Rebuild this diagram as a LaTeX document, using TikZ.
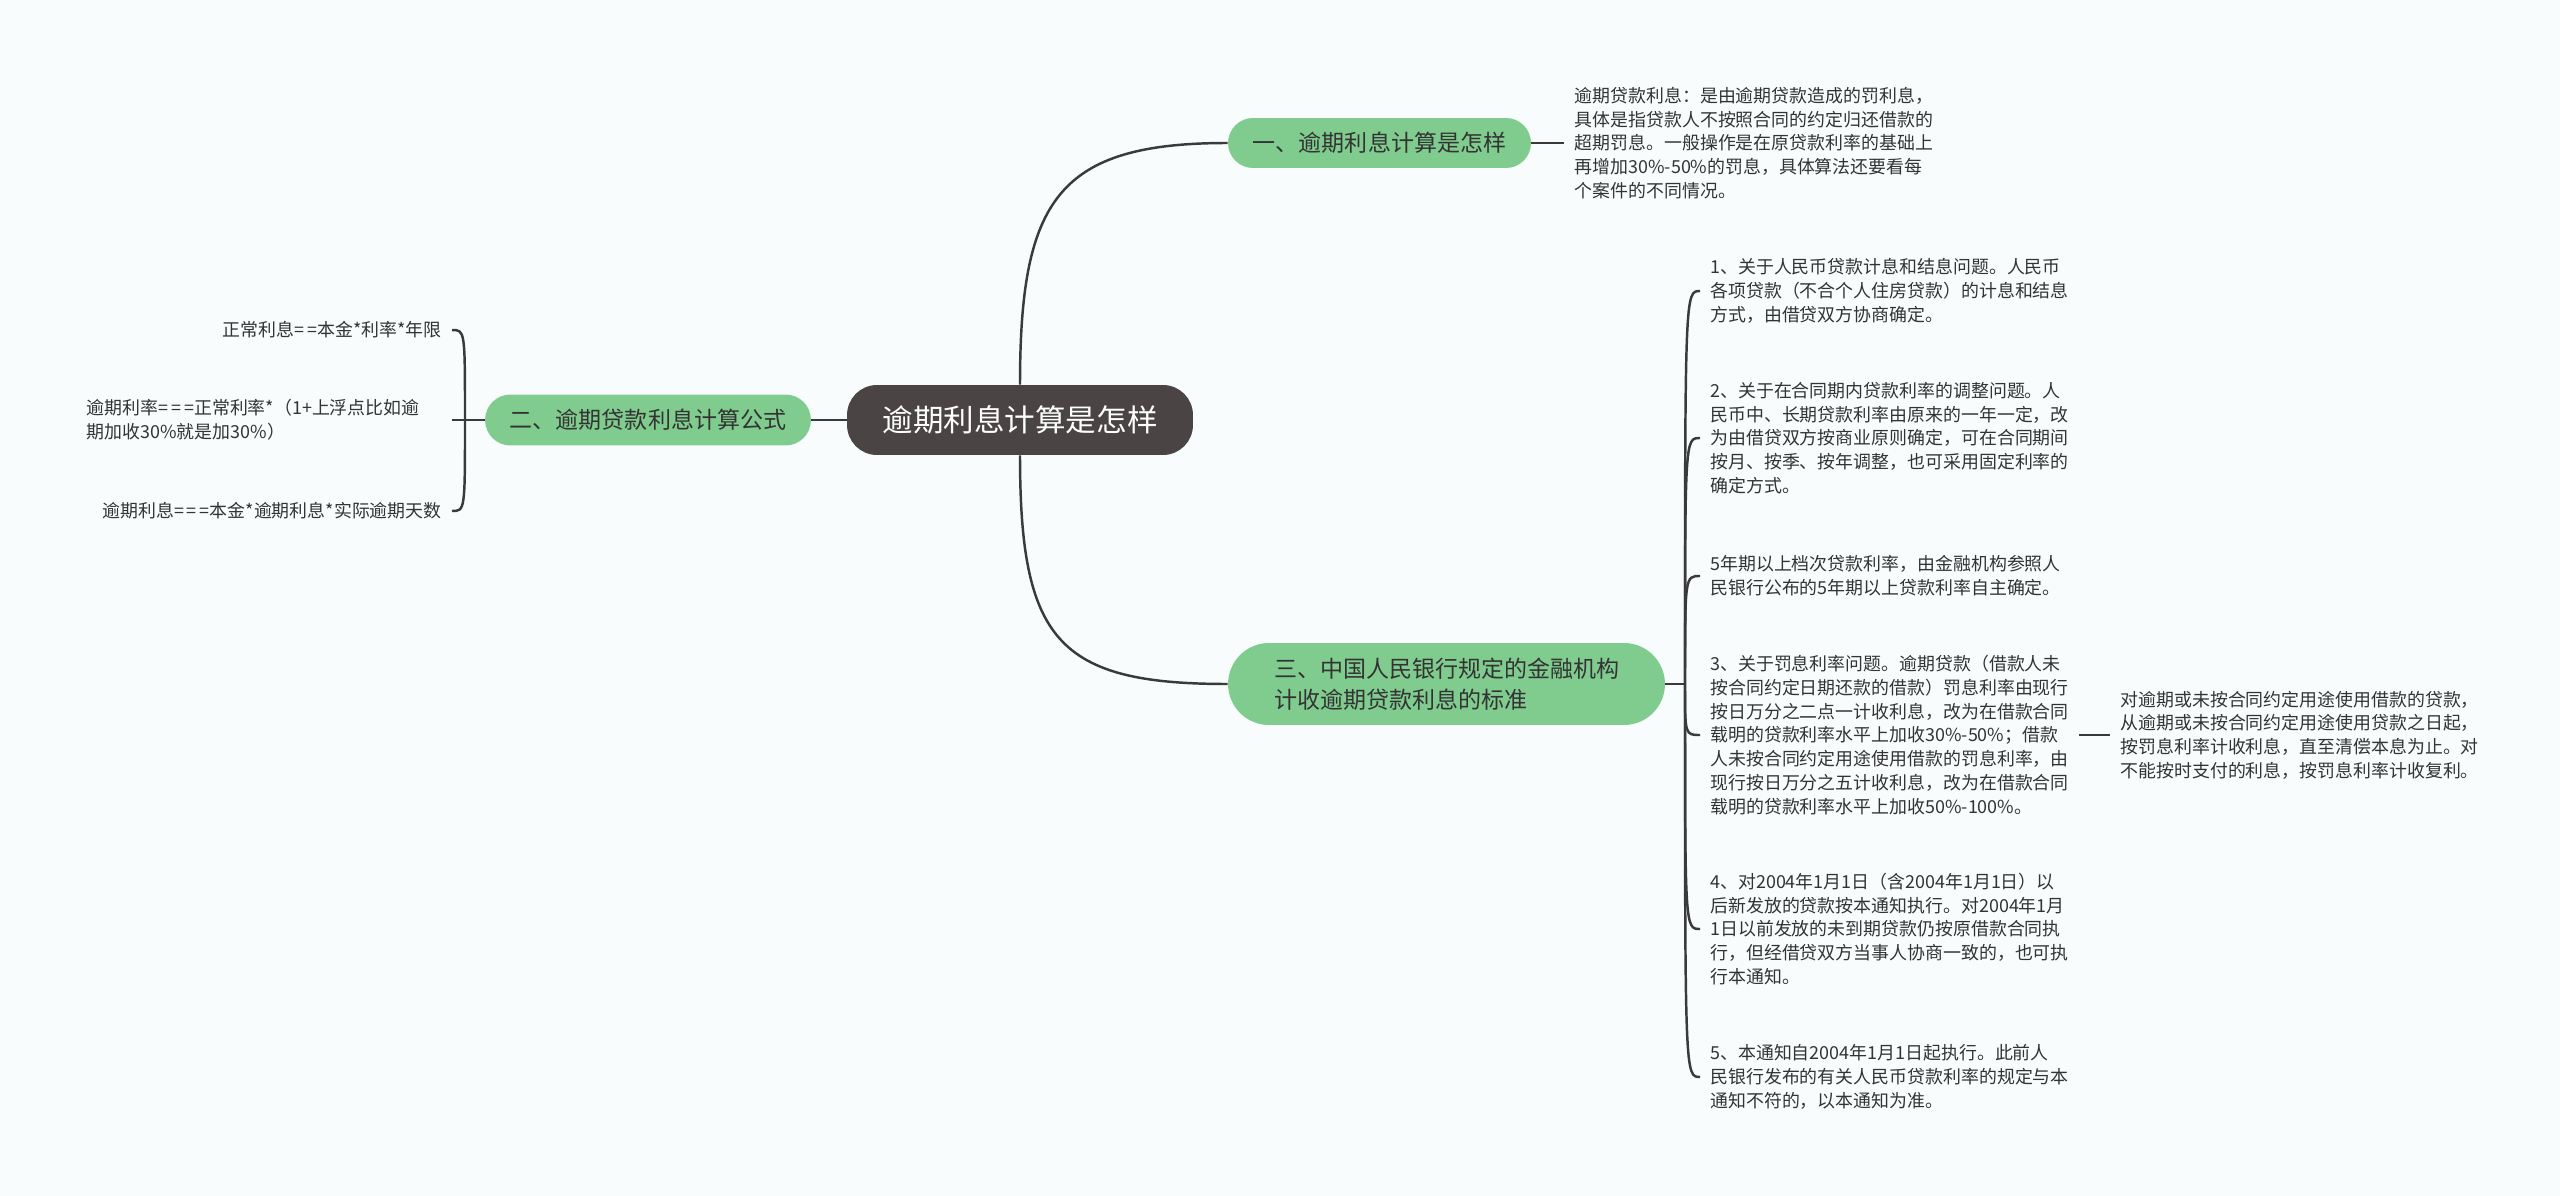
\documentclass[tikz,border=0pt]{standalone}
\usepackage{fontspec}
\setmainfont{Noto Sans CJK SC}
\usetikzlibrary{positioning}
\definecolor{paper}{HTML}{F8FCFD}
\definecolor{rootgray}{HTML}{4A4444}
\definecolor{leafgreen}{HTML}{80CC8F}
\definecolor{ink}{HTML}{333333}
\definecolor{wire}{HTML}{3A3A3A}

\begin{document}
\begin{tikzpicture}[x=0.02cm,y=-0.02cm,
 root/.style={fill=rootgray,text=white,rounded corners=0.6cm,minimum width=6.92cm,minimum height=1.4cm,font=\fontsize{17.4pt}{20pt}\selectfont},
 branch/.style={fill=leafgreen,text=ink,font=\fontsize{13.1pt}{17.6pt}\selectfont},
 leaf/.style={text=ink,align=left,inner xsep=0.2cm,inner ysep=2pt,font=\fontsize{10.2pt}{13.5pt}\selectfont},
 link/.style={draw=wire,line width=1.4pt}]
 \fill[paper] (0,0) rectangle (2560,1196);
 % centre and the three branches
 \node[root] (root) at (1020,420) {逾期利息计算是怎样};
 \node[branch,rounded corners=0.5cm,minimum width=6.06cm,minimum height=1cm] (q1) at (1379.5,143) {一、逾期利息计算是怎样};
 \node[branch,rounded corners=0.51cm,minimum width=6.52cm,minimum height=1.02cm] (q2) at (648,420) {二、逾期贷款利息计算公式};
 \node[branch,rounded corners=0.82cm,minimum width=8.74cm,minimum height=1.64cm,text width=6.9cm,align=left] (q3) at (1446.5,684) {三、中国人民银行规定的金融机构\\计收逾期贷款利息的标准};
 % branch one
 \node[leaf,right=0.66cm of q1] (note1) {逾期贷款利息：是由逾期贷款造成的罚利息，\\具体是指贷款人不按照合同的约定归还借款的\\超期罚息。一般操作是在原贷款利率的基础上\\再增加30\%-50\%的罚息，具体算法还要看每\\个案件的不同情况。};
 % branch two
 \node[leaf,anchor=east] (f1) at (452,330) {正常利息=\,=本金*利率*年限};
 \node[leaf,anchor=east,text width=7.1cm] (f2) at (452,420) {逾期利率=\,=\,=正常利率*（1+上浮点比如逾\\期加收30\%就是加30\%）};
 \node[leaf,anchor=east] (f3) at (452,511) {逾期利息=\,=\,=本金*逾期利息*实际逾期天数};
 % branch three
 \node[leaf,anchor=west] (s1) at (1700,291) {1、关于人民币贷款计息和结息问题。人民币\\各项贷款（不合个人住房贷款）的计息和结息\\方式，由借贷双方协商确定。};
 \node[leaf,anchor=west] (s2) at (1700,438) {2、关于在合同期内贷款利率的调整问题。人\\民币中、长期贷款利率由原来的一年一定，改\\为由借贷双方按商业原则确定，可在合同期间\\按月、按季、按年调整，也可采用固定利率的\\确定方式。};
 \node[leaf,anchor=west] (s3) at (1700,576) {5年期以上档次贷款利率，由金融机构参照人\\民银行公布的5年期以上贷款利率自主确定。};
 \node[leaf,anchor=west] (s4) at (1700,735) {3、关于罚息利率问题。逾期贷款（借款人未\\按合同约定日期还款的借款）罚息利率由现行\\按日万分之二点一计收利息，改为在借款合同\\载明的贷款利率水平上加收30\%-50\%；借款\\人未按合同约定用途使用借款的罚息利率，由\\现行按日万分之五计收利息，改为在借款合同\\载明的贷款利率水平上加收50\%-100\%。};
 \node[leaf,anchor=west] (s5) at (1700,929) {4、对2004年1月1日（含2004年1月1日）以\\后新发放的贷款按本通知执行。对2004年1月\\1日以前发放的未到期贷款仍按原借款合同执\\行，但经借贷双方当事人协商一致的，也可执\\行本通知。};
 \node[leaf,anchor=west] (s6) at (1700,1077) {5、本通知自2004年1月1日起执行。此前人\\民银行发布的有关人民币贷款利率的规定与本\\通知不符的，以本通知为准。};
 \node[leaf,right=0.62cm of s4] (s4note) {对逾期或未按合同约定用途使用借款的贷款，\\从逾期或未按合同约定用途使用贷款之日起，\\按罚息利率计收利息，直至清偿本息为止。对\\不能按时支付的利息，按罚息利率计收复利。};
 % connectors
 \draw[link] (root.north) .. controls +(0,-185) and +(-170,0) .. (q1.west);
 \draw[link] (root.south) .. controls +(0,185) and +(-170,0) .. (q3.west);
 \draw[link] (root.west) -- (q2.east);
 \draw[link] (q1.east) -- (note1.west);
 \coordinate (lspine) at (465,420);
 \draw[link] (q2.west) -- (lspine);
 \foreach \f in {f1,f2,f3}
  \draw[link] (lspine) .. controls (lspine |- \f.east) .. (\f.east);
 \coordinate (rspine) at (1685,684);
 \draw[link] (q3.east) -- (rspine);
 \foreach \s in {s1,s2,s3,s4,s5,s6}
  \draw[link] (rspine) .. controls (rspine |- \s.west) .. (\s.west);
 \draw[link] (s4.east) -- (s4note.west);
\end{tikzpicture}
\end{document}
